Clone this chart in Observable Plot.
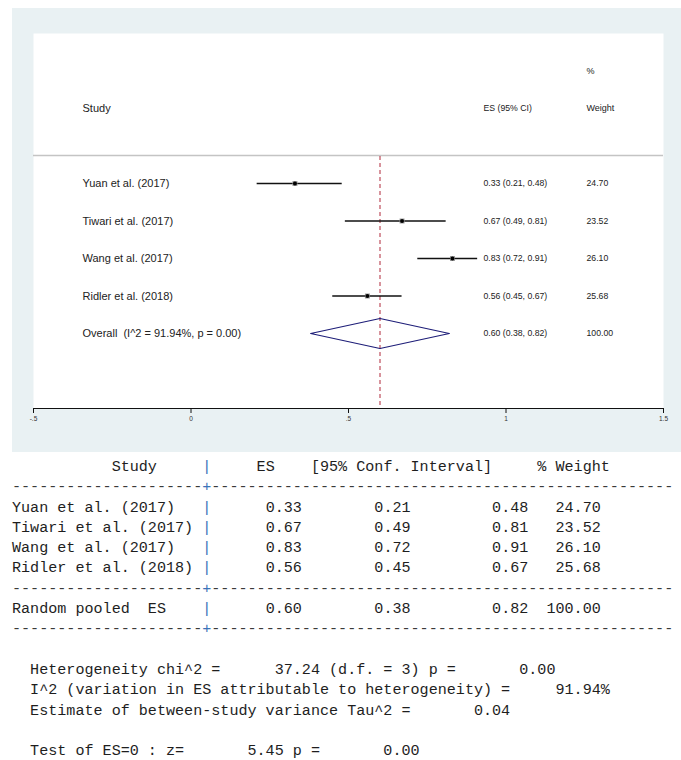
<!DOCTYPE html>
<html>
<head>
<meta charset="utf-8">
<script src="https://cdn.jsdelivr.net/npm/d3@7"></script>
<script src="https://cdn.jsdelivr.net/npm/@observablehq/plot@0.6"></script>
<style>
  html, body { margin: 0; padding: 0; background: #ffffff; width: 681px; height: 760px; overflow: hidden; }
  #chart { position: absolute; left: 12px; top: 8px; width: 669px; height: 444px; background: #e9f1f3; }
  #chart svg text { white-space: pre; }
  #table { position: absolute; left: 12px; top: 457px; margin: 0; font-family: "Liberation Mono", "DejaVu Sans Mono", monospace;
           font-size: 15.1px; line-height: 20.3px; color: #1e1e1e; white-space: pre; }
  #table .line { height: 20.3px; }
  #table .sep { color: #3a72b8; }
  #table .dash { color: #3a3a3a; }
</style>
</head>
<body>
<div id="chart"></div>
<div id="table"></div>
<script>
// ---- data ----
const studies = ["Yuan et al. (2017)", "Tiwari et al. (2017)", "Wang et al. (2017)", "Ridler et al. (2018)"];
const esValues = [0.33, 0.67, 0.83, 0.56];
const ciLow = [0.21, 0.49, 0.72, 0.45];
const ciHigh = [0.48, 0.81, 0.91, 0.67];
const weights = [24.70, 23.52, 26.10, 25.68];

const overallLabel = "Overall";
const overallES = 0.60;
const overallLow = 0.38;
const overallHigh = 0.82;
const overallWeight = 100.00;
const pooledLabel = "Random pooled  ES";

const hetChi2 = 37.24;
const hetDf = 3;
const hetP = 0.00;
const iSquared = 91.94;
const tauSquared = 0.04;
const zValue = 5.45;
const zP = 0.00;

const xTicks = [-0.5, 0, 0.5, 1, 1.5];

// ---- build ----
const f2 = v => v.toFixed(2);
const rows = studies.map((s, i) => ({
  study: s, es: esValues[i], lo: ciLow[i], hi: ciHigh[i], w: weights[i], row: i
}));
const overallRow = studies.length;
const overall = {
  study: `${overallLabel}  (I^2 = ${f2(iSquared)}%, p = ${f2(hetP)})`,
  es: overallES, lo: overallLow, hi: overallHigh, w: overallWeight, row: overallRow
};
const allRows = [...rows, overall];
const diamond = [
  {x: overall.lo, y: overallRow},
  {x: overall.es, y: overallRow - 0.4},
  {x: overall.hi, y: overallRow},
  {x: overall.es, y: overallRow + 0.4},
  {x: overall.lo, y: overallRow}
];
const headerStudy = [{t: "Study", y: -2}];
const headerES = [{t: "ES (95% CI)", y: -2}];
const headerWeight = [{t: "Weight", y: -2}, {t: "%", y: -3}];
const stataFmt = d => d === 0 ? "0" : String(d).replace(/^(-?)0\./, "$1.");

const plot = Plot.plot({
  width: 669,
  height: 444,
  marginLeft: 21,
  marginRight: 18,
  marginTop: 25,
  marginBottom: 44,
  style: {background: "transparent", fontFamily: "Liberation Sans, Arial, sans-serif", color: "#222", overflow: "visible"},
  x: {domain: [-0.5, 1.5]},
  y: {domain: [-4, 6], reverse: true, axis: null},
  marks: [
    Plot.frame({fill: "white", stroke: null}),
    Plot.ruleY([-0.75], {stroke: "#c4c4c4", strokeWidth: 1.5}),
    Plot.ruleX([overallES], {y1: -0.72, y2: 6, stroke: "#b0283a", strokeWidth: 1, strokeDasharray: "4,3"}),
    Plot.ruleY(rows, {x1: "lo", x2: "hi", y: "row", stroke: "#111", strokeWidth: 1.6}),
    Plot.dot(rows, {x: "es", y: "row", symbol: "square", r: 2.8, fill: "#9a9a9a", stroke: null}),
    Plot.dot(rows, {x: "es", y: "row", r: 2, fill: "#000", stroke: null}),
    Plot.line(diamond, {x: "x", y: "y", stroke: "#1d1d78", strokeWidth: 1.2}),
    Plot.text(headerStudy, {text: "t", y: "y", frameAnchor: "left", textAnchor: "start", dx: 49, fontSize: 11, fill: "#222"}),
    Plot.text(headerES, {text: "t", y: "y", frameAnchor: "left", textAnchor: "start", dx: 450, fontSize: 8.7, fill: "#222"}),
    Plot.text(headerWeight, {text: "t", y: "y", frameAnchor: "left", textAnchor: "start", dx: 553, fontSize: 9, fill: "#222"}),
    Plot.text(allRows, {text: "study", y: "row", frameAnchor: "left", textAnchor: "start", dx: 49, fontSize: 11, fill: "#222"}),
    Plot.text(allRows, {text: d => `${f2(d.es)} (${f2(d.lo)}, ${f2(d.hi)})`, y: "row", frameAnchor: "left", textAnchor: "start", dx: 450, fontSize: 8.7, fill: "#222"}),
    Plot.text(allRows, {text: d => f2(d.w), y: "row", frameAnchor: "left", textAnchor: "start", dx: 553, fontSize: 8.7, fill: "#222"}),
    Plot.ruleY([6], {stroke: "#111", strokeWidth: 1.2}),
    Plot.axisX({ticks: xTicks, tickFormat: stataFmt, tickSize: 5, tickPadding: 3, fontSize: 6.5, stroke: "#111", fill: "#333"})
  ]
});
document.getElementById("chart").appendChild(plot);

// ---- results table (text) ----
const esc = s => s.replace(/&/g, "&amp;").replace(/</g, "&lt;");
const sep = '<span class="sep">|</span>';
const dashLine = '<span class="dash">' + "-".repeat(21) + '</span><span class="sep">+</span><span class="dash">' + "-".repeat(51) + '</span>';
const rowLine = (name, es, lo, hi, w) =>
  '<span>' + esc(name.padEnd(21)) + '</span>' + sep + '<span>' + f2(es).padStart(10) + f2(lo).padStart(12) + f2(hi).padStart(13) + f2(w).padStart(8) + '</span>';
const lines = [];
lines.push('<span>' + " ".repeat(11) + "Study" + " ".repeat(5) + '</span>' + sep + '<span>' + " ".repeat(5) + "ES" + " ".repeat(4) + "[95% Conf. Interval]" + " ".repeat(5) + "% Weight</span>");
lines.push(dashLine);
rows.forEach(r => lines.push(rowLine(r.study, r.es, r.lo, r.hi, r.w)));
lines.push(dashLine);
lines.push(rowLine(pooledLabel, overallES, overallLow, overallHigh, overallWeight));
lines.push(dashLine);
lines.push("");
lines.push("  Heterogeneity chi^2 =" + f2(hetChi2).padStart(11) + ` (d.f. = ${hetDf}) p =` + f2(hetP).padStart(11));
lines.push("  I^2 (variation in ES attributable to heterogeneity) =" + (f2(iSquared) + "%").padStart(11));
lines.push("  Estimate of between-study variance Tau^2 =" + f2(tauSquared).padStart(11));
lines.push("");
lines.push("  Test of ES=0 : z=" + f2(zValue).padStart(11) + " p =" + f2(zP).padStart(11));
document.getElementById("table").innerHTML = lines.map(l => `<div class="line">${l}</div>`).join("");
</script>
</body>
</html>
